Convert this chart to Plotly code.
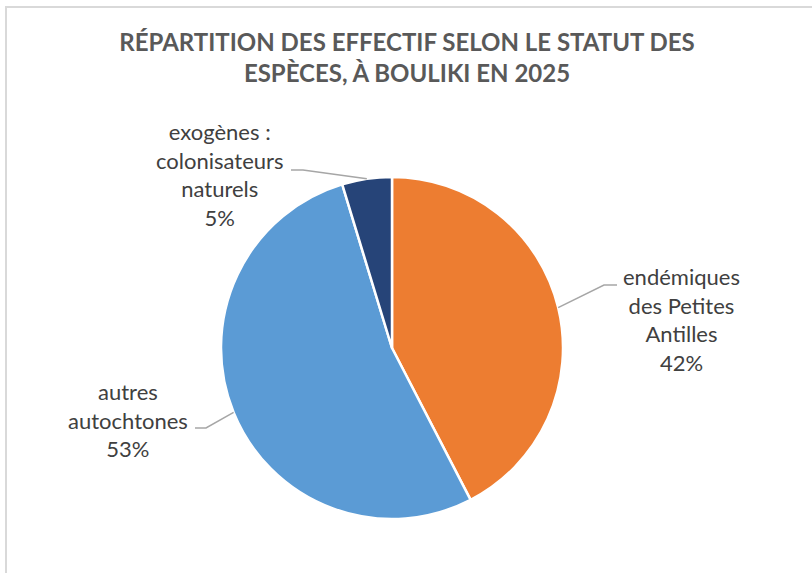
import math
import plotly.graph_objs as go

W, H = 812, 573

# data
labels = ["endémiques<br>des Petites<br>Antilles", "autres<br>autochtones", "exogènes :<br>colonisateurs<br>naturels"]
values = [42.4, 52.9, 4.7]
colors = ["#ED7D31", "#5B9BD5", "#264478"]

title = "RÉPARTITION DES EFFECTIF SELON LE STATUT DES<br>ESPÈCES, À BOULIKI EN 2025"

# pie geometry in pixels
cx, cy, r = 392, 348, 171

# label placement (pixels): text centre, elbow end of leader line
label_pos = [(681, 319), (128, 420), (220, 174)]
elbows = [[(604, 285), (617, 285)], [(206, 428), (195, 428)], [(303, 170), (291, 170)]]


def px(x):
    return x / W


def py(y):
    return 1 - y / H


fig = go.Figure()
fig.add_trace(go.Pie(
    labels=labels, values=values, sort=False, direction="clockwise", rotation=0,
    marker=dict(colors=colors, line=dict(color="white", width=2.5)),
    textinfo="none", hoverinfo="label+percent", showlegend=False,
    domain=dict(x=[px(cx - r), px(cx + r)], y=[py(cy + r), py(cy - r)]),
))

shapes = []
annotations = []
total = sum(values)
cum = 0
for lab, v, (lx, ly), elb in zip(labels, values, label_pos, elbows):
    mid = (cum + v / 2) / total * 2 * math.pi
    cum += v
    ex = cx + r * math.sin(mid)
    ey = cy - r * math.cos(mid)
    path = "M %f %f" % (px(ex), py(ey))
    for (x, y) in elb:
        path += " L %f %f" % (px(x), py(y))
    shapes.append(dict(type="path", path=path, xref="paper", yref="paper",
                       line=dict(color="#A6A6A6", width=1.5)))
    pct = round(v / total * 100)
    annotations.append(dict(
        x=px(lx), y=py(ly), xref="paper", yref="paper", showarrow=False,
        xanchor="center", yanchor="middle",
        text="%s<br>%d%%" % (lab, pct), align="center",
        font=dict(family="Lato, Carlito, sans-serif", size=22, color="#404040"),
    ))

# chart border
shapes.append(dict(type="path", path="M %f %f L %f %f L %f %f" % (px(6), py(H + 20), px(6), py(7), px(W + 20), py(7)),
                   xref="paper", yref="paper", line=dict(color="#D9D9D9", width=2)))

fig.update_layout(
    width=W, height=H,
    margin=dict(l=0, r=0, t=0, b=0),
    paper_bgcolor="white",
    title=dict(text="<b>%s</b>" % title, x=407 / W, xanchor="center", y=py(51), yanchor="middle",
               font=dict(family="Lato, sans-serif", size=24, color="#595959")),
    shapes=shapes,
    annotations=annotations,
)

fig.write_html("out.html", config={"displayModeBar": False},
               post_script="document.body.style.margin = '0';")
